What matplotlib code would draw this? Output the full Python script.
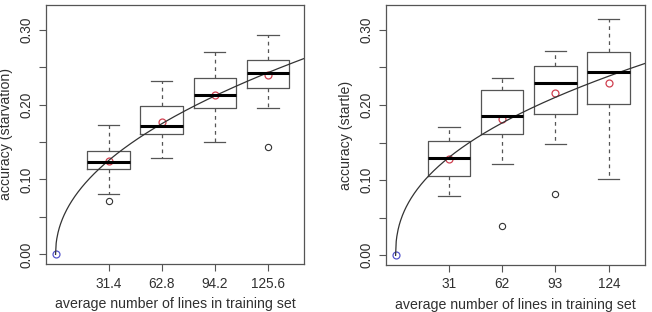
import numpy as np
import matplotlib
matplotlib.use("Agg")
from matplotlib import pyplot as plt

plt.rcParams['font.family'] = ['Liberation Sans', 'DejaVu Sans']

# left panel: starvation
x_starv = [31.4, 62.8, 94.2, 125.6]
starv_whislo = [0.081, 0.128, 0.150, 0.195]
starv_q1 = [0.114, 0.161, 0.1955, 0.222]
starv_med = [0.123, 0.1715, 0.2124, 0.242]
starv_q3 = [0.138, 0.198, 0.2355, 0.260]
starv_whishi = [0.1724, 0.2315, 0.2697, 0.2928]
starv_mean = [0.1244, 0.1764, 0.2133, 0.2395]
starv_out = [[0.0715], [], [], [0.1435]]

# right panel: startle
x_start = [31, 62, 93, 124]
start_whislo = [0.079, 0.1208, 0.1475, 0.1013]
start_q1 = [0.1057, 0.161, 0.188, 0.2017]
start_med = [0.130, 0.1857, 0.2293, 0.244]
start_q3 = [0.152, 0.220, 0.2515, 0.2707]
start_whishi = [0.170, 0.236, 0.272, 0.3137]
start_mean = [0.1275, 0.1813, 0.216, 0.2297]
start_out = [[], [0.039], [0.0813], []]

edge = '#555555'
txt = '#303030'


def panel(ax, xs, lo, q1, med, q3, hi, means, outs, ylabel):
    step = xs[0]
    stats = []
    for i in range(len(xs)):
        stats.append(dict(med=med[i], q1=q1[i], q3=q3[i], whislo=lo[i],
                          whishi=hi[i], fliers=outs[i]))
    ax.bxp(stats, positions=xs, widths=0.8 * step, capwidths=0.4 * step,
           manage_ticks=False,
           boxprops=dict(color=edge, linewidth=0.9),
           whiskerprops=dict(color=edge, linewidth=0.9, linestyle=(0, (3, 3))),
           capprops=dict(color=edge, linewidth=0.9),
           medianprops=dict(color='black', linewidth=2.2),
           flierprops=dict(marker='o', markerfacecolor='none',
                           markeredgecolor='#333333', markersize=4.5,
                           markeredgewidth=0.8))
    ax.plot(xs, means, 'o', mfc='none', mec='#d04050', ms=5, mew=0.9)
    ax.plot([0], [0], 'o', mfc='none', mec='#5555cc', ms=5, mew=0.9)

    # power fit through the means
    b, loga = np.polyfit(np.log(xs), np.log(means), 1)
    xmax = 4.5 * step
    pad = 0.04 * xmax
    xx = np.linspace(0, xmax + pad, 400)
    ax.plot(xx, np.exp(loga) * xx ** b, color='#333333', linewidth=0.9)

    ax.set_xlim(-pad, xmax + pad)
    ax.set_ylim(-0.04 * 0.32, 0.32 * 1.04)
    ax.set_xticks(xs)
    ax.set_xticklabels([('%g' % v) for v in xs])
    yt = np.arange(0, 0.31, 0.05)
    ax.set_yticks(yt)
    ax.set_yticklabels(['%.2f' % v if i % 2 == 0 else '' for i, v in enumerate(yt)],
                       rotation=90, va='center')
    ax.tick_params(direction='out', length=5, width=0.8, color=edge,
                   labelsize=9.8, labelcolor=txt, pad=4)
    for s in ax.spines.values():
        s.set_color(edge)
        s.set_linewidth(0.9)
    ax.set_xlabel('average number of lines in training set', fontsize=10.2,
                  color=txt, labelpad=5)
    ax.set_ylabel(ylabel, fontsize=10.2, color=txt, labelpad=5)


fig = plt.figure(figsize=(6.52, 3.12), dpi=100)
ax1 = fig.add_axes([46 / 652, 48 / 312, 258 / 652, 259 / 312])
ax2 = fig.add_axes([386 / 652, 47 / 312, 259 / 652, 260 / 312])

panel(ax1, x_starv, starv_whislo, starv_q1, starv_med, starv_q3, starv_whishi,
      starv_mean, starv_out, 'accuracy (starvation)')
panel(ax2, x_start, start_whislo, start_q1, start_med, start_q3, start_whishi,
      start_mean, start_out, 'accuracy (startle)')

fig.savefig('out.png', dpi=100)
